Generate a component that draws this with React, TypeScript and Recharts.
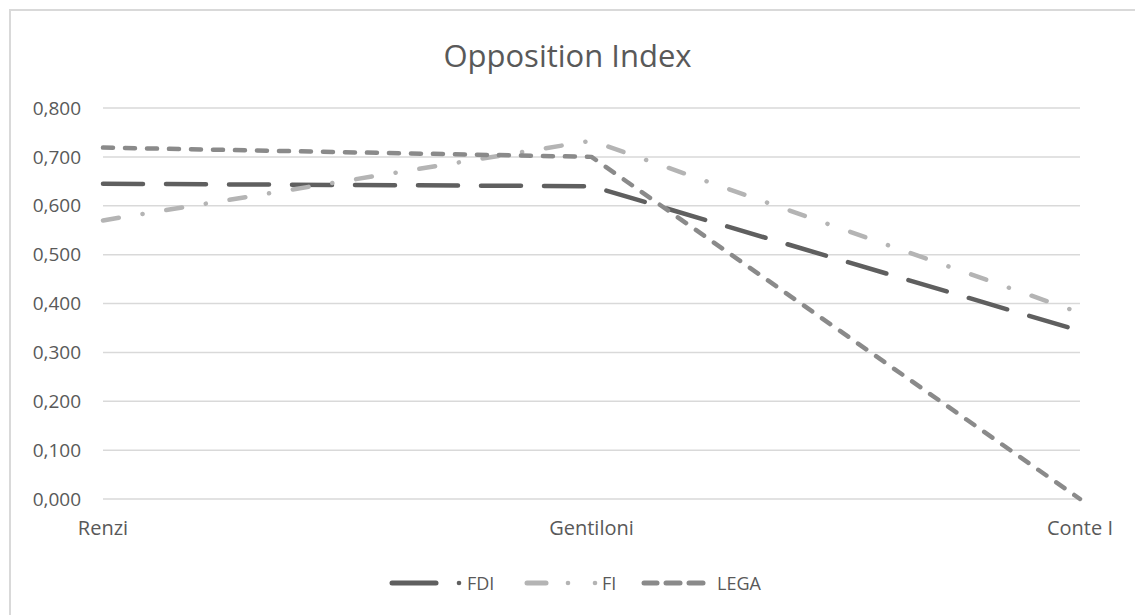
import { LineChart, Line, XAxis, YAxis, CartesianGrid } from 'recharts';

const governments = ['Renzi', 'Gentiloni', 'Conte I'];
const fdi = [0.645, 0.64, 0.344];
const fi = [0.57, 0.733, 0.381];
const lega = [0.719, 0.7, 0.0];
const yTicks = [0, 0.1, 0.2, 0.3, 0.4, 0.5, 0.6, 0.7, 0.8];

const data = governments.map((name, i) => ({ name, FDI: fdi[i], FI: fi[i], LEGA: lega[i] }));

const FONT = '"Open Sans", "Liberation Sans", sans-serif';
const TEXT = '#595959';

const fmt = (v: number) => v.toFixed(3).replace('.', ',');

function LegendBox() {
  return (
    <svg width={1135} height={30} style={{ display: 'block' }}>
      <g fontFamily={FONT} fontSize={18} fill={TEXT}>
        <line x1={392} y1={14} x2={436} y2={14} stroke="#5f5f5f" strokeWidth={5} strokeLinecap="round" />
        <circle cx={459} cy={14} r={2.3} fill="#5f5f5f" />
        <text x={467} y={20.5}>FDI</text>
        <line x1={527} y1={14} x2={546} y2={14} stroke="#b4b4b4" strokeWidth={5} strokeLinecap="round" />
        <circle cx={568} cy={14} r={2.3} fill="#b4b4b4" />
        <circle cx={595} cy={14} r={2.3} fill="#b4b4b4" />
        <text x={602} y={20.5}>FI</text>
        <line x1={644} y1={14} x2={657} y2={14} stroke="#8a8a8a" strokeWidth={5} strokeLinecap="round" />
        <line x1={666} y1={14} x2={680} y2={14} stroke="#8a8a8a" strokeWidth={5} strokeLinecap="round" />
        <line x1={689} y1={14} x2={703} y2={14} stroke="#8a8a8a" strokeWidth={5} strokeLinecap="round" />
        <text x={717} y={20.5}>LEGA</text>
      </g>
    </svg>
  );
}

export default function App() {
  return (
    <div style={{ position: 'relative', width: 1135, height: 615, overflow: 'hidden', background: '#fff' }}>
      <style>{'body{margin:0}'}</style>
      <div
        style={{
          position: 'absolute',
          left: 9,
          top: 9,
          width: 1140,
          height: 620,
          border: '2px solid #d9d9d9',
          boxSizing: 'border-box',
        }}
      />
      <div
        style={{
          position: 'absolute',
          left: 0,
          top: 36,
          width: 1135,
          textAlign: 'center',
          fontFamily: FONT,
          fontSize: 31,
          color: TEXT,
          lineHeight: '38px',
        }}
      >
        Opposition Index
      </div>
      <div style={{ position: 'absolute', left: 0, top: 0 }}>
        <LineChart width={1135} height={615} data={data} margin={{ top: 108, right: 55, bottom: 0, left: 13 }}>
          <CartesianGrid vertical={false} stroke="#d9d9d9" strokeWidth={1.5} />
          <XAxis
            dataKey="name"
            axisLine={false}
            tickLine={false}
            tickSize={6}
            tickMargin={16}
            height={116}
            tick={{ fontSize: 20, fill: TEXT, fontFamily: FONT }}
          />
          <YAxis
            domain={[0, 0.8]}
            ticks={yTicks}
            tickFormatter={fmt}
            axisLine={false}
            tickLine={false}
            tickSize={6}
            tickMargin={16}
            width={90}
            tick={{ fontSize: 19, fill: TEXT, fontFamily: FONT }}
          />
          <Line
            dataKey="FDI"
            stroke="#5f5f5f"
            strokeWidth={4.5}
            strokeDasharray="40 23"
            strokeLinecap="round"
            strokeLinejoin="round"
            dot={false}
            isAnimationActive={false}
          />
          <Line
            dataKey="FI"
            stroke="#b4b4b4"
            strokeWidth={4.5}
            strokeDasharray="16 24 0.1 24"
            strokeLinecap="round"
            strokeLinejoin="round"
            dot={false}
            isAnimationActive={false}
          />
          <Line
            dataKey="LEGA"
            stroke="#8a8a8a"
            strokeWidth={4.5}
            strokeDasharray="10 12"
            strokeLinecap="round"
            strokeLinejoin="round"
            dot={false}
            isAnimationActive={false}
          />
        </LineChart>
      </div>
      <div style={{ position: 'absolute', left: 0, top: 569 }}>
        <LegendBox />
      </div>
    </div>
  );
}
